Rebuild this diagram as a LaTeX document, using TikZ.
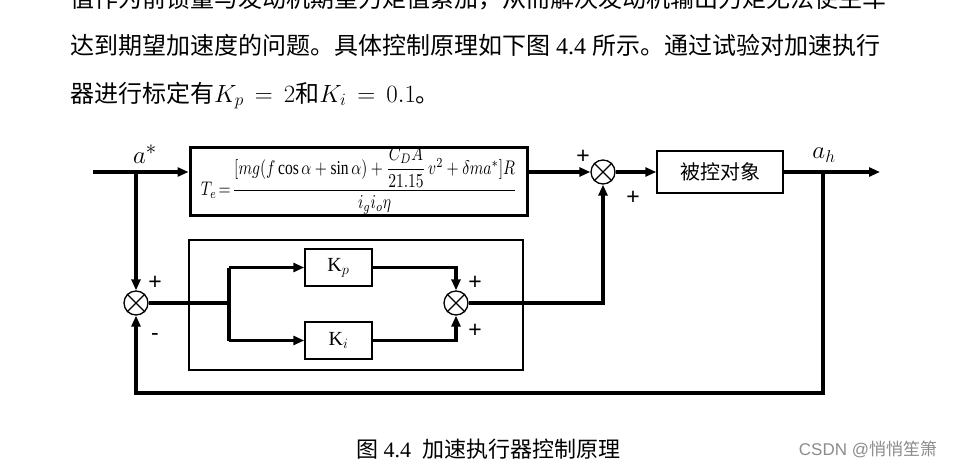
\documentclass[tikz,border=0pt]{standalone}
\usepackage{amsmath}
\usepackage{fontspec}
\setmainfont{Liberation Serif}
\newfontfamily\cjk{Noto Sans CJK SC}
\newfontfamily\wmfont{Liberation Sans}
\usetikzlibrary{arrows.meta}
\begin{document}
\begin{tikzpicture}[x=1pt,y=-1pt,
  thk/.style={line width=3.5pt},
  arr/.style={-{Triangle[length=11pt,width=9pt]}},
  sumc/.style={circle,draw,line width=1.3pt,minimum size=24pt,inner sep=0pt,fill=white},
  blk/.style={draw,line width=1.5pt,inner sep=0pt,fill=white},
  body/.style={anchor=base west,font=\cjk\fontsize{24}{24}\selectfont,inner sep=0pt},
  sgn/.style={font=\wmfont\fontsize{23}{23}\selectfont,inner sep=0pt}
]
\useasboundingbox (0,0) rectangle (971,471);
\fill[white] (0,0) rectangle (971,471);
\begin{scope}
\clip (0,0) rectangle (971,471);
\node[body] (t1) at (70,7) {值作为前馈量与发动机期望力矩值累加，从而解决发动机输出力矩无法使主车};
\node[body] (t2) at (70,54) {达到期望加速度的问题。具体控制原理如下图{\rmfamily\ 4.4\ }所示。通过试验对加速执行};
\node[body] (t3) at (70,102) {器进行标定有$K_p\,=\,2$和$K_i\,=\,0.1$。};
\end{scope}

% formula block
\node[draw,line width=3pt,minimum width=337pt,minimum height=68pt,inner sep=0pt] (fb) at (358.5,181) {};
\node[inner sep=0pt] (fm) at (359,181) {\resizebox{316pt}{48pt}{$T_{e}\!=\!\dfrac{[mg(f\cos\alpha+\sin\alpha)+\dfrac{C_{D}A}{21.15}\,v^{2}+\delta m a^{*}]R}{i_{g}i_{o}\eta}$}};

% plant
\node[blk,minimum width=126pt,minimum height=42pt] (plant) at (720,172) {\cjk\fontsize{20}{20}\selectfont 被控对象};

% PI box
\node[draw,line width=2.5pt,minimum width=334pt,minimum height=130pt,inner sep=0pt] (pi) at (356,305) {};
\node[blk,minimum width=67pt,minimum height=37pt] (kp) at (338.5,267.5) {\fontsize{20}{20}\selectfont K$_{\fontsize{13}{13}\selectfont p}$};
\node[blk,minimum width=67pt,minimum height=37pt] (ki) at (338.5,340.5) {\fontsize{20}{20}\selectfont K$_{\fontsize{13}{13}\selectfont i}$};

% summing junctions
\node[sumc] (s1) at (603,172) {};
\node[sumc] (s2) at (136,303) {};
\node[sumc] (s3) at (456,303) {};
\foreach \s in {s1,s2,s3}{
  \draw[line width=1.3pt] (\s.north west) -- (\s.south east) (\s.north east) -- (\s.south west);
}

% coordinates
\coordinate (in) at (93,172);
\coordinate (br) at (136,172);
\coordinate (out) at (880,172);
\coordinate (fbk) at (823,172);
\coordinate (fbd) at (823,393);
\coordinate (jn) at (229,303);

% connectors
\draw[thk,arr] (in) -- (in -| fb.west);
\draw[thk,arr] (fb.east |- s1) -- (s1.west);
\draw[thk,arr] (s1.east) -- (plant.west);
\draw[thk,arr] (plant.east) -- (out);
\draw[thk,arr] (fbk) -- (fbd) -| (s2.south);
\draw[thk,arr] (br) -- (s2.north);
\draw[thk] (s2.east) -- (jn);
\draw[thk,arr] (jn |- kp) -- (kp.west);
\draw[thk,arr] (jn |- ki) -- (ki.west);
\draw[thk] (jn |- kp) -- (jn |- ki);
\draw[thk,arr] (kp.east) -| (s3.north);
\draw[thk,arr] (ki.east) -| (s3.south);
\draw[thk,arr] (s3.east) -| (s1.south);

% labels
\node[font=\fontsize{32}{32}\selectfont,inner sep=0pt] (la) at (145,154) {$a^{*}$};
\node[font=\fontsize{25}{25}\selectfont,inner sep=0pt] (lh) at (824,155) {$a_{h}$};
\node[sgn] (p1) at (583,157) {+};
\node[sgn] (p2) at (633,198) {+};
\node[sgn] (p3) at (155,283) {+};
\node[sgn] (m1) at (155,337) {-};
\node[sgn] (p4) at (475,283) {+};
\node[sgn] (p5) at (475,331) {+};

% caption and watermark
\node[font=\cjk\fontsize{22}{22}\selectfont,inner sep=0pt] (cap) at (488,449) {图{\rmfamily\ 4.4\ \ }加速执行器控制原理};
\node[font=\fontsize{17}{17}\selectfont,text=black!45,inner sep=0pt] (wm) at (868,449) {\wmfont CSDN @\cjk 悄悄笙箫};
\end{tikzpicture}
\end{document}
